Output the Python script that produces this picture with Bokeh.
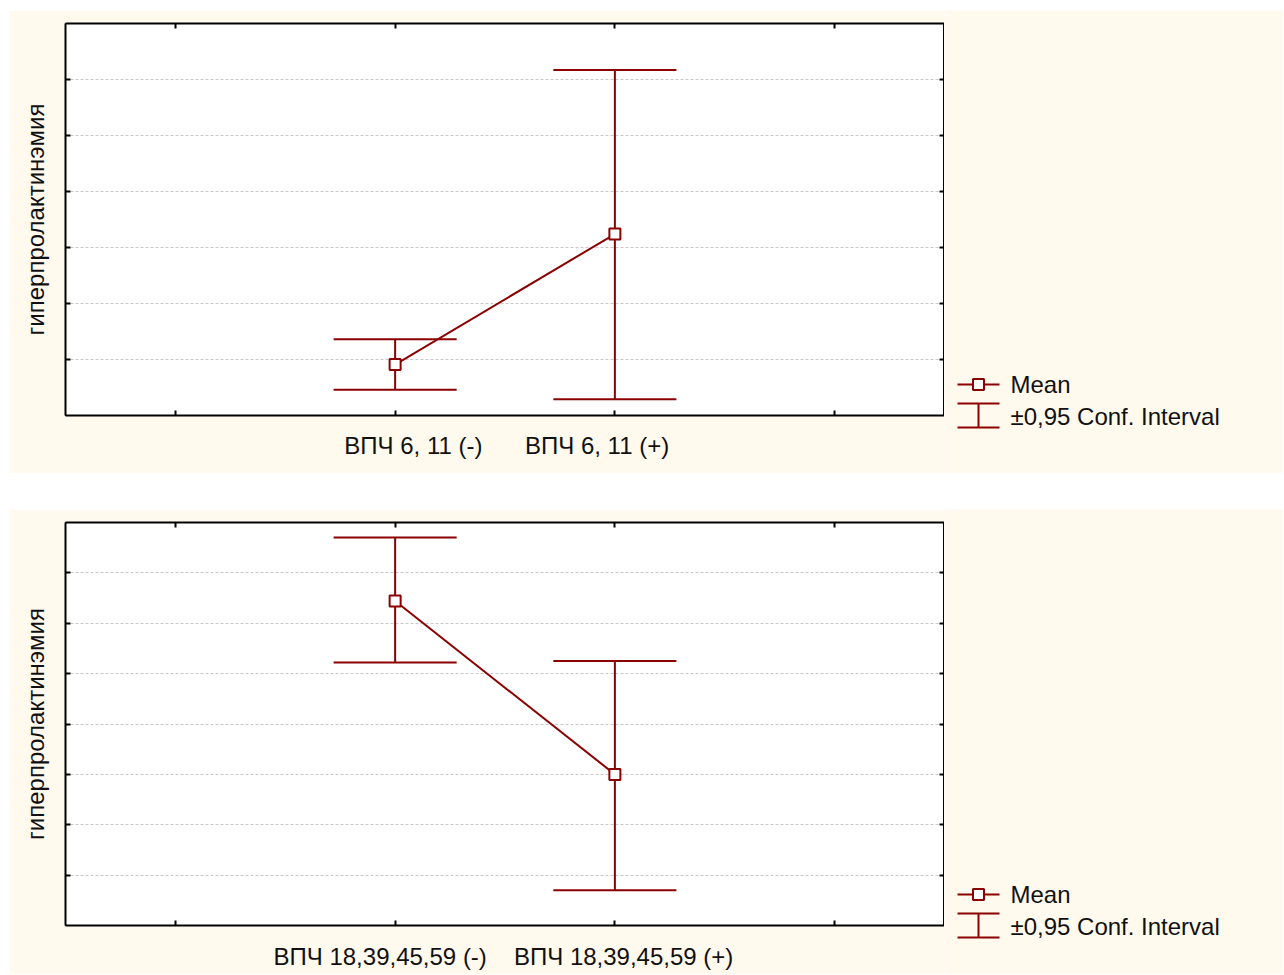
from bokeh.plotting import figure
from bokeh.models import Range1d, FixedTicker, LinearAxis
from bokeh.layouts import column, row
from bokeh.embed import file_html
from bokeh.resources import INLINE
from bokeh.core.properties import value

# ---------------- data ----------------
cats_top = ["ВПЧ 6, 11 (-)", "ВПЧ 6, 11 (+)"]
mean_top = [0.091, 0.324]
lower_top = [0.046, 0.029]
upper_top = [0.136, 0.617]

cats_bot = ["ВПЧ 18,39,45,59 (-)", "ВПЧ 18,39,45,59 (+)"]
mean_bot = [0.644, 0.300]
lower_bot = [0.522, 0.070]
upper_bot = [0.770, 0.525]

y_ticks_top = [0.1, 0.2, 0.3, 0.4, 0.5, 0.6]
y_ticks_bot = [0.1, 0.2, 0.3, 0.4, 0.5, 0.6, 0.7]
y_label = "гиперпролактинэмия"
legend_labels = ["Mean", "±0,95 Conf. Interval"]

# horizontal nudge of the category labels relative to their ticks (axis units)
label_shift_top = [0.083, -0.081]
label_shift_bot = [-0.068, 0.040]

# ---------------- style ----------------
RED = "#8B0000"
CREAM = "#FFF9EE"
FONT = "Liberation Sans"
TEXT = "#111111"
TOTAL_W = 1274
MAIN_W = 935
LEG_W = TOTAL_W - MAIN_W
CAP = 0.28


def hide_labels(ax):
    ax.major_label_text_font_size = "0px"
    ax.major_label_text_color = None
    ax.major_label_standoff = 0
    ax.major_tick_in = 5
    ax.major_tick_out = 0
    ax.minor_tick_in = 0
    ax.minor_tick_out = 0
    ax.axis_line_width = 2
    ax.axis_line_color = "black"
    ax.major_tick_line_width = 2
    ax.major_tick_line_color = "black"


def make_panel(cats, mean, lo, hi, shifts, y_max, y_ticks, height, top_b, bot_b, standoff):
    xs = [1.5 + i for i in range(len(cats))]
    x_ticks = [0.5] + xs + [xs[-1] + 1.0]
    label_x = [round(x + s, 4) for x, s in zip(xs, shifts)]

    p = figure(width=MAIN_W, height=height, x_range=Range1d(0, 4), y_range=Range1d(0, y_max),
               toolbar_location=None, output_backend="svg",
               background_fill_color="white", border_fill_color=CREAM,
               outline_line_color="black", outline_line_width=1,
               min_border_left=56, min_border_right=0, min_border_top=top_b, min_border_bottom=bot_b)
    p.frame_align = False

    # tick axis (no labels)
    xax = p.xaxis[0]
    hide_labels(xax)
    xax.ticker = FixedTicker(ticks=x_ticks)

    # category label axis
    lab_ax = LinearAxis(ticker=FixedTicker(ticks=label_x),
                        major_label_overrides={lx: c for lx, c in zip(label_x, cats)})
    lab_ax.axis_line_color = None
    lab_ax.major_tick_line_color = None
    lab_ax.major_tick_in = 0
    lab_ax.major_tick_out = 0
    lab_ax.minor_tick_in = 0
    lab_ax.minor_tick_out = 0
    lab_ax.major_label_text_font_size = "24px"
    lab_ax.major_label_text_font = FONT
    lab_ax.major_label_text_color = TEXT
    lab_ax.major_label_standoff = standoff
    p.add_layout(lab_ax, "below")

    yax = p.yaxis[0]
    hide_labels(yax)
    yax.ticker = FixedTicker(ticks=y_ticks)
    yax.axis_label = y_label
    yax.axis_label_text_font = FONT
    yax.axis_label_text_font_size = "24px"
    yax.axis_label_text_font_style = "normal"
    yax.axis_label_text_color = TEXT
    yax.axis_label_standoff = 17

    top_ax = LinearAxis(ticker=FixedTicker(ticks=x_ticks))
    hide_labels(top_ax)
    p.add_layout(top_ax, "above")
    right_ax = LinearAxis(ticker=FixedTicker(ticks=y_ticks))
    hide_labels(right_ax)
    p.add_layout(right_ax, "right")

    p.xgrid.visible = False
    p.ygrid.grid_line_color = "#c8c8c8"
    p.ygrid.grid_line_dash = "3 2"
    p.ygrid.grid_line_width = 1

    # error bars
    p.segment(x0=xs, y0=lo, x1=xs, y1=hi, line_color=RED, line_width=2)
    p.segment(x0=[x - CAP for x in xs], y0=lo, x1=[x + CAP for x in xs], y1=lo, line_color=RED, line_width=2)
    p.segment(x0=[x - CAP for x in xs], y0=hi, x1=[x + CAP for x in xs], y1=hi, line_color=RED, line_width=2)
    # means
    p.line(xs, mean, line_color=RED, line_width=2)
    p.scatter(xs, mean, marker="square", size=11, fill_color="white", line_color=RED, line_width=2)

    # legend panel (pixel-like coordinates)
    leg = figure(width=LEG_W, height=height, x_range=Range1d(0, LEG_W), y_range=Range1d(0, height),
                 toolbar_location=None, output_backend="svg", x_axis_type=None, y_axis_type=None,
                 background_fill_color=CREAM, border_fill_color=CREAM, outline_line_color=None,
                 min_border=0, min_border_left=0, min_border_right=0, min_border_top=0, min_border_bottom=0)
    leg.frame_align = False
    leg.grid.visible = False
    ym = bot_b + 31
    yt = bot_b + 12
    yb = bot_b - 12
    ytx = bot_b - 1
    kx0, kx1, kxc, tx = 13, 55, 34, 66
    leg.line([kx0, kx1], [ym, ym], line_color=RED, line_width=2)
    leg.scatter([kxc], [ym], marker="square", size=11, fill_color="white", line_color=RED, line_width=2)
    leg.segment(x0=[kx0, kx0, kxc], y0=[yt, yb, yb], x1=[kx1, kx1, kxc], y1=[yt, yb, yt],
                line_color=RED, line_width=2)
    leg.text(x=[tx, tx], y=[ym, ytx], text=legend_labels, text_font=value(FONT),
             text_font_size="24px", text_color=TEXT, text_align="left", text_baseline="middle")
    return row(p, leg, spacing=0)


top = make_panel(cats_top, mean_top, lower_top, upper_top, label_shift_top, 0.7, y_ticks_top, 463, 13, 58, 16)
bot = make_panel(cats_bot, mean_bot, lower_bot, upper_bot, label_shift_bot, 0.8, y_ticks_bot, 465, 13, 49, 17)

layout = column(top, bot, spacing=36, margin=(10, 0, 0, 9))
open("out.html", "w").write(file_html(layout, INLINE))
